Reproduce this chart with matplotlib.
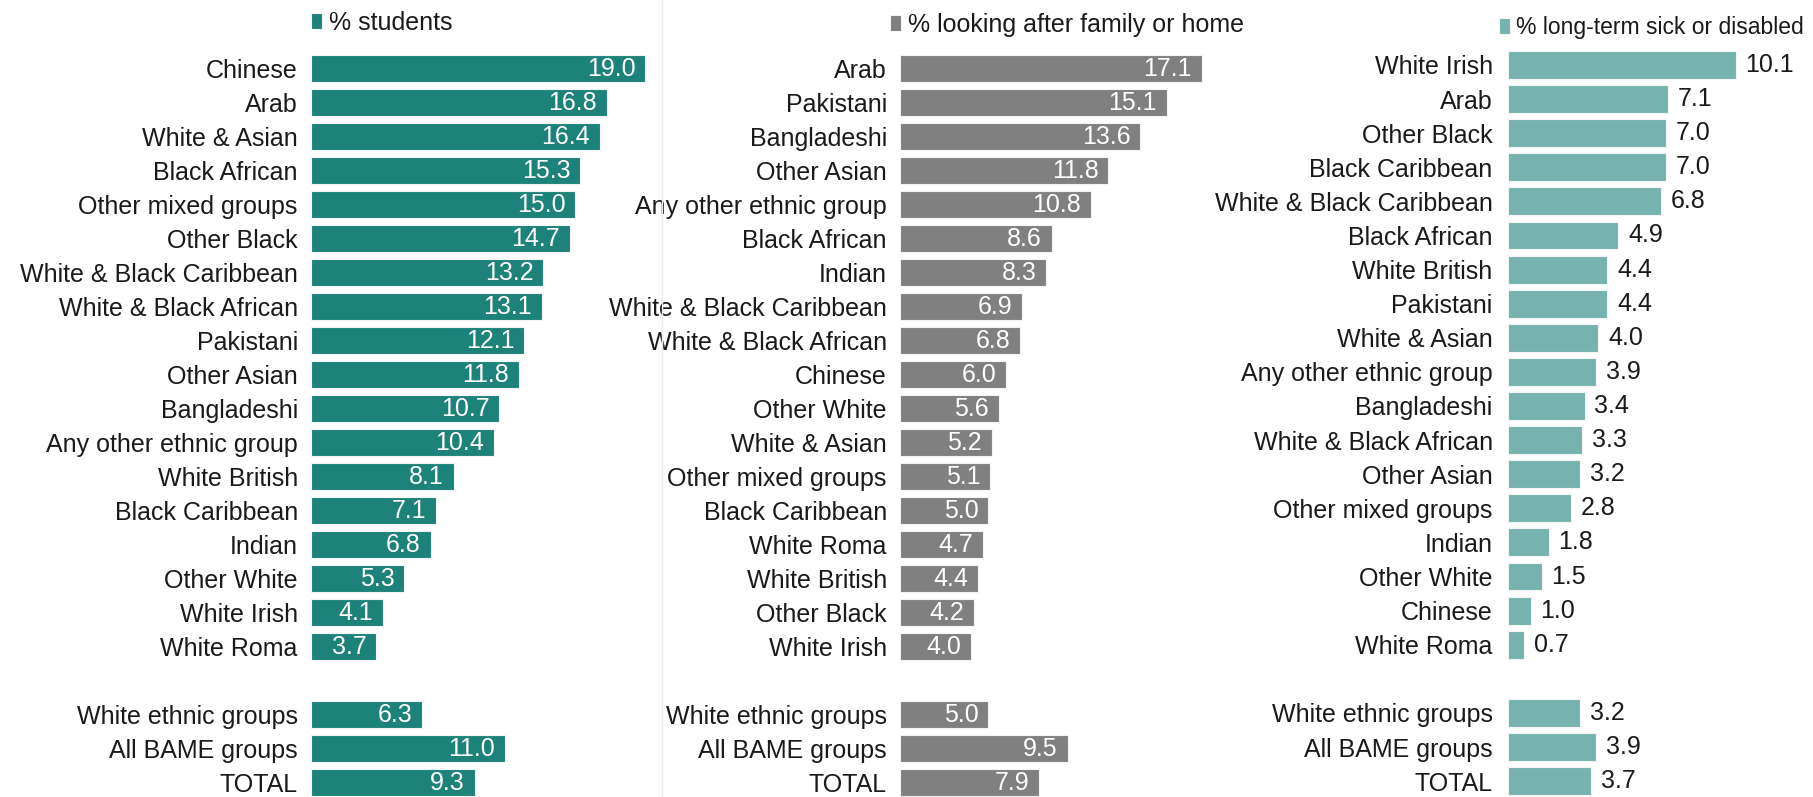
import matplotlib
matplotlib.use("Agg")
import matplotlib.pyplot as plt
from matplotlib.lines import Line2D

plt.rcParams['font.family'] = ['Liberation Sans', 'DejaVu Sans']

# ---- data -------------------------------------------------------------
students_groups = ["Chinese", "Arab", "White & Asian", "Black African",
                   "Other mixed groups", "Other Black", "White & Black Caribbean",
                   "White & Black African", "Pakistani", "Other Asian", "Bangladeshi",
                   "Any other ethnic group", "White British", "Black Caribbean",
                   "Indian", "Other White", "White Irish", "White Roma"]
students_values = [19.0, 16.8, 16.4, 15.3, 15.0, 14.7, 13.2, 13.1, 12.1, 11.8,
                   10.7, 10.4, 8.1, 7.1, 6.8, 5.3, 4.1, 3.7]

family_groups = ["Arab", "Pakistani", "Bangladeshi", "Other Asian",
                 "Any other ethnic group", "Black African", "Indian",
                 "White & Black Caribbean", "White & Black African", "Chinese",
                 "Other White", "White & Asian", "Other mixed groups",
                 "Black Caribbean", "White Roma", "White British", "Other Black",
                 "White Irish"]
family_values = [17.1, 15.1, 13.6, 11.8, 10.8, 8.6, 8.3, 6.9, 6.8, 6.0,
                 5.6, 5.2, 5.1, 5.0, 4.7, 4.4, 4.2, 4.0]

sick_groups = ["White Irish", "Arab", "Other Black", "Black Caribbean",
               "White & Black Caribbean", "Black African", "White British",
               "Pakistani", "White & Asian", "Any other ethnic group",
               "Bangladeshi", "White & Black African", "Other Asian",
               "Other mixed groups", "Indian", "Other White", "Chinese",
               "White Roma"]
sick_values = [10.1, 7.1, 7.0, 7.0, 6.8, 4.9, 4.4, 4.4, 4.0, 3.9,
               3.4, 3.3, 3.2, 2.8, 1.8, 1.5, 1.0, 0.7]

summary_groups = ["White ethnic groups", "All BAME groups", "TOTAL"]
students_summary = [6.3, 11.0, 9.3]
family_summary = [5.0, 9.5, 7.9]
sick_summary = [3.2, 3.9, 3.7]

titles = ["% students", "% looking after family or home",
          "% long-term sick or disabled"]
colors = ["#1d827a", "#808080", "#76b3af"]

# ---- layout -----------------------------------------------------------
W, H = 1813, 797
FS = 18
fig = plt.figure(figsize=(W / 100, H / 100), dpi=100)


def panel(left_px, right_px, px_per_unit, first_px, pitch_px, groups, values,
          summary, color, title, inside, label_pad, header_dx, header_row,
          header_fs):
    ax = fig.add_axes([left_px / W, 0, (right_px - left_px) / W, 1])
    ax.set_xlim(0, (right_px - left_px) / px_per_unit)
    ax.set_ylim((H - first_px) / pitch_px, -first_px / pitch_px)

    n = len(groups)
    rows = list(range(n)) + [n + 1 + i for i in range(len(summary))]
    labels = list(groups) + summary_groups
    vals = list(values) + list(summary)

    bars = ax.barh(rows, vals, height=0.82, color=color, edgecolor="#f4f4f4",
                   linewidth=0.8, label=title)

    ax.set_yticks(rows, labels)
    ax.tick_params(axis="y", length=0, pad=label_pad, labelsize=FS,
                   labelcolor="#1a1a1a")
    ax.set_xticks([])
    for s in ax.spines.values():
        s.set_visible(False)
    ax.patch.set_alpha(0)

    for r, v in zip(rows, vals):
        if inside:
            ax.annotate(f"{v:.1f}", xy=(v, r), xytext=(-7, 0),
                        textcoords="offset points", ha="right", va="center",
                        color="white", fontsize=FS)
        else:
            ax.annotate(f"{v:.1f}", xy=(v, r), xytext=(7, 0),
                        textcoords="offset points", ha="left", va="center",
                        color="#1a1a1a", fontsize=FS)

    ax.legend(handles=[bars], loc="center left",
              bbox_to_anchor=(header_dx / px_per_unit, header_row),
              bbox_transform=ax.transData, frameon=False, borderpad=0,
              borderaxespad=0, handlelength=0.42 * FS / header_fs,
              handleheight=0.6 * FS / header_fs,
              handletextpad=0.3, fontsize=header_fs, labelcolor="#1a1a1a")
    return ax


panel(311, 662, 17.6, 68.5, 34.0, students_groups, students_values,
      students_summary, colors[0], titles[0], True, 9.5, 0, -1.34, 18)
panel(900, 1290, 17.65, 68.5, 34.0, family_groups, family_values,
      family_summary, colors[1], titles[1], True, 9.5, -10, -1.28, 18)
panel(1508, 1813, 22.54, 65.0, 34.1, sick_groups, sick_values,
      sick_summary, colors[2], titles[2], False, 11, -9, -1.1, 16.5)

# faint divider between the first two panels
fig.add_artist(Line2D([662 / W, 662 / W], [0, 1], color="#ededed", lw=1))

fig.savefig("out.png", dpi=100)
